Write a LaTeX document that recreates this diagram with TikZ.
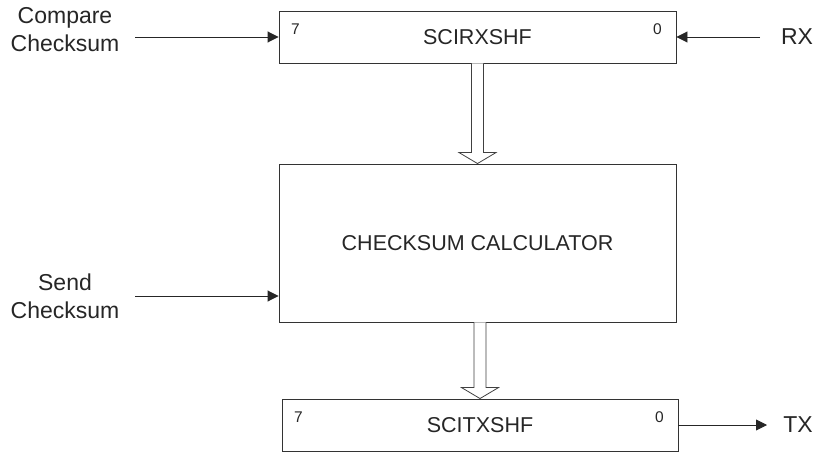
\documentclass[tikz,border=0pt]{standalone}
\usepackage{fontspec}
\setmainfont{Liberation Sans}
\usepackage{tikz}
\usetikzlibrary{arrows.meta,positioning,calc}

\tikzset{
  reg/.style={draw=black!80, line width=0.9pt, minimum width=397pt, inner sep=0pt, text=black!85},
  lbl/.style={font=\fontsize{21.5}{28}\selectfont, text=black!85, align=center},
  extlbl/.style={lbl, font=\fontsize{23}{28}\selectfont},
  bitno/.style={font=\fontsize{15.5}{17}\selectfont, text=black!85},
  sig/.style={draw=black!85, line width=0.9pt, -{Triangle[length=11pt,width=11pt]}},
  hollow/.style={draw=black!75, line width=0.8pt, fill=white}
}
% wide hollow arrow between two nodes
\newcommand{\busarrow}[2]{%
  \draw[hollow] ($(#2.north |- #1.south)+(-6,0)$) -- ($(#2.north)+(-6,-11)$) -- ($(#2.north)+(-18.5,-11)$)
    -- (#2.north) -- ($(#2.north)+(18.5,-11)$) -- ($(#2.north)+(6,-11)$) -- ($(#2.north |- #1.south)+(6,0)$);}

\begin{document}
\begin{tikzpicture}[x=1pt, y=-1pt]
\useasboundingbox (0,0) rectangle (814,452);
% registers and calculator
\node[reg, minimum height=52pt, lbl] (rx) at (477.5,37) {SCIRXSHF};
\node[reg, minimum height=158pt, lbl] (calc) at (477.5,243) {CHECKSUM CALCULATOR};
\node[reg, minimum width=396pt, minimum height=52pt, lbl] (tx) at (480,425) {SCITXSHF};
% bit numbers
\foreach \r in {rx,tx} {
  \node[bitno] (\r7) at ($(\r.north west)+(17,19)$) {7};
  \node[bitno] (\r0) at ($(\r.north east)+(-19,19)$) {0};
}
% external signals
\node[extlbl] (cmp) at (65,30) {Compare\\Checksum};
\node[extlbl] (snd) at (65,296) {Send\\Checksum};
\node[extlbl] (rxin) at (797,37) {RX};
\node[extlbl] (txout) at (798,425) {TX};
\coordinate (cmpend) at (135,37);
\coordinate (sndend) at (135,296);
\coordinate (rxend) at (760,37);
\coordinate (txend) at (767,425);
\draw[sig] (cmpend) -- (rx.west);
\draw[sig] (sndend) -- (calc.west |- sndend);
\draw[sig] (rxend) -- (rx.east);
\draw[sig] (tx.east) -- (txend);
% parallel transfers
\busarrow{rx}{calc}
\busarrow{calc}{tx}
\end{tikzpicture}
\end{document}
